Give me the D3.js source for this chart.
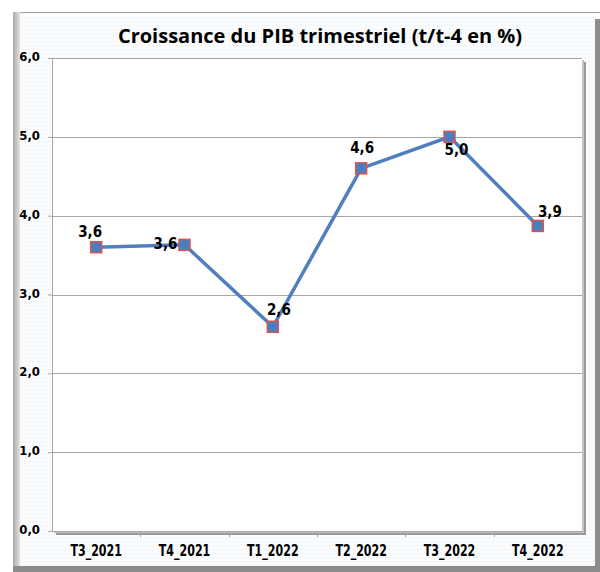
<!DOCTYPE html>
<html>
<head>
	<meta charset="utf-8">
	<title>Croissance du PIB trimestriel</title>
	<script src="https://d3js.org/d3.v7.min.js"></script>
	<style>
		body { margin: 0; background: #fff; }
		text { font-family: "DejaVu Sans Condensed", "DejaVu Sans", sans-serif; font-weight: bold; fill: #000; }
		.title { font-family: "Open Sans", "Noto Sans", sans-serif; }
	</style>
</head>
<body>
<svg width="600" height="572"></svg>
<script>
	// Data
	var quarters = ["T3_2021", "T4_2021", "T1_2022", "T2_2022", "T3_2022", "T4_2022"];
	var growth = [3.6, 3.63, 2.59, 4.6, 5.0, 3.87];
	var yTicks = [0, 1, 2, 3, 4, 5, 6];
	// label offsets from each point (dx, dy) as placed in the original
	var labelDx = [-6, -19, 6, 1, 7, 12];
	var labelDy = [-10, 4, -12, -15, 18, -9];

	var svg = d3.select("svg");
	var margin = {top: 58, right: 18, bottom: 41, left: 52};
	var width = 600 - margin.left - margin.right,
		height = 572 - margin.top - margin.bottom;

	var defs = svg.append("defs");
	var pat = defs.append("pattern")
		.attr("id", "dots")
		.attr("width", 4).attr("height", 4)
		.attr("patternUnits", "userSpaceOnUse");
	pat.append("rect").attr("width", 4).attr("height", 4).attr("fill", "#fbfcfe");
	pat.append("rect").attr("x", 1).attr("y", 1).attr("width", 1).attr("height", 1).attr("fill", "#dfe6f0");

	var lg = defs.append("linearGradient").attr("id", "leftShade");
	lg.append("stop").attr("offset", "0%").attr("stop-color", "#a8a8a8");
	lg.append("stop").attr("offset", "100%").attr("stop-color", "#e4e4e4");

	// outer chart frame with shadows
	svg.append("rect").attr("x", 13).attr("y", 12).attr("width", 587).attr("height", 560).attr("fill", "url(#dots)");
	svg.append("line").attr("x1", 13).attr("x2", 600).attr("y1", 12.5).attr("y2", 12.5).attr("stroke", "#a0a0a0");
	svg.append("rect").attr("x", 13).attr("y", 12).attr("width", 7).attr("height", 560).attr("fill", "url(#leftShade)");
	svg.append("rect").attr("x", 595).attr("y", 19).attr("width", 5).attr("height", 553).attr("fill", "#8c8c8c");
	svg.append("rect").attr("x", 13).attr("y", 566).attr("width", 587).attr("height", 6).attr("fill", "#8c8c8c");

	// title
	svg.append("text")
		.attr("class", "title")
		.attr("x", 320).attr("y", 43)
		.attr("text-anchor", "middle")
		.style("font-size", "20px")
		.text("Croissance du PIB trimestriel (t/t-4 en %)");

	var x = d3.scaleBand().domain(quarters).range([0, width]);
	var y = d3.scaleLinear().domain([0, 6]).range([height, 0]);

	var g = svg.append("g").attr("transform", "translate(" + margin.left + "," + margin.top + ")");

	// plot area with shadow
	g.append("rect").attr("x", 4).attr("y", 4).attr("width", width).attr("height", height).attr("fill", "#9a9a9a");
	g.append("rect").attr("x", 2).attr("y", 2).attr("width", width).attr("height", height).attr("fill", "#c4c4c4");
	g.append("rect").attr("width", width).attr("height", height).attr("fill", "#fff");

	// gridlines
	g.selectAll(".grid").data(yTicks.filter(function(d) { return d > 0; }))
		.enter().append("line")
		.attr("x1", 0).attr("x2", width)
		.attr("y1", function(d) { return Math.round(y(d)) + 0.5; })
		.attr("y2", function(d) { return Math.round(y(d)) + 0.5; })
		.attr("stroke", "#a6a6a6");

	// y axis
	var yAxis = g.append("g")
		.call(d3.axisLeft(y).tickValues(yTicks).tickSize(4).tickPadding(8)
			.tickFormat(function(d) { return d3.format(".1f")(d).replace(".", ","); }));
	yAxis.select(".domain").attr("stroke", "#a6a6a6");
	yAxis.selectAll(".tick line").attr("stroke", "#a6a6a6");
	yAxis.selectAll("text").style("font-size", "13px").attr("dy", "0.2em");

	// x axis
	var xAxis = g.append("g")
		.attr("transform", "translate(0," + height + ")")
		.call(d3.axisBottom(x).tickSize(0).tickPadding(14));
	xAxis.select(".domain").attr("stroke", "#a6a6a6");
	xAxis.selectAll("text").style("font-size", "15px").attr("transform", "scale(0.82,1)");
	g.selectAll(".xtick").data(quarters.slice(1))
		.enter().append("line")
		.attr("x1", function(d) { return Math.round(x(d)) + 0.5; })
		.attr("x2", function(d) { return Math.round(x(d)) + 0.5; })
		.attr("y1", height).attr("y2", height + 6)
		.attr("stroke", "#a6a6a6");

	// line
	var line = d3.line()
		.x(function(d, i) { return x(quarters[i]) + x.bandwidth() / 2; })
		.y(function(d) { return y(d); });

	g.append("path")
		.datum(growth)
		.attr("fill", "none")
		.attr("stroke", "#4f7fbf")
		.attr("stroke-width", 3.5)
		.attr("d", line);

	// markers
	var pts = g.selectAll(".pt").data(growth).enter().append("g")
		.attr("transform", function(d, i) {
			return "translate(" + (x(quarters[i]) + x.bandwidth() / 2) + "," + y(d) + ")";
		});
	pts.append("rect")
		.attr("x", -5.5).attr("y", -5.5).attr("width", 11).attr("height", 11)
		.attr("fill", "#4f81bd").attr("stroke", "#d9534f").attr("stroke-width", 1.5);
	pts.append("circle").attr("r", 4.5).attr("fill", "#4a7cc0");

	// value labels
	pts.append("text")
		.attr("x", function(d, i) { return labelDx[i]; })
		.attr("y", function(d, i) { return labelDy[i]; })
		.attr("text-anchor", "middle")
		.style("font-size", "15px")
		.text(function(d) { return d3.format(".1f")(d).replace(".", ","); });
</script>
</body>
</html>
